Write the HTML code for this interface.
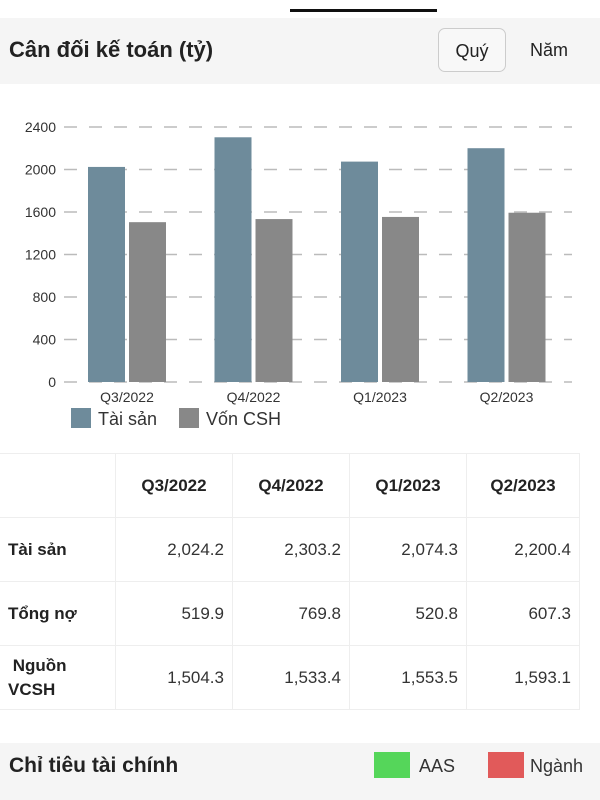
<!DOCTYPE html>
<html><head><meta charset="utf-8"><style>
body{margin:0;width:600px;height:800px;background:#fff;font-family:"Liberation Sans",sans-serif;overflow:hidden;position:relative;color:#222}
.abs{position:absolute}
table{border-collapse:collapse;position:absolute;left:0;top:453px}
td{border:1px solid #eee;font-size:17px;height:63px;padding:0 8px;text-align:right;color:#333}
td.h{font-weight:bold;color:#222;text-align:center}
td.l{font-weight:bold;text-align:left;border-left:none;color:#222}
</style></head><body>
<div class="abs" style="left:290px;top:9px;width:147px;height:3px;background:#111"></div>
<div class="abs" style="left:0;top:18px;width:600px;height:66px;background:#f5f5f5"></div>
<div class="abs" style="left:9px;top:37px;font-size:22px;font-weight:bold">Cân đối kế toán (tỷ)</div>
<div class="abs" style="left:438px;top:28px;width:68px;height:44px;border:1px solid #ccc;border-radius:7px;background:#f8f8f8;font-size:18px;line-height:44px;text-align:center;box-sizing:border-box">Quý</div>
<div class="abs" style="left:530px;top:40px;font-size:18px">Năm</div>
<svg class="abs" style="left:0;top:100px" width="600" height="340" id="ch"></svg>
<table>
<tr><td style="width:99px;border-left:none"></td><td class="h" style="width:100px">Q3/2022</td><td class="h" style="width:100px">Q4/2022</td><td class="h" style="width:100px">Q1/2023</td><td class="h" style="width:96px">Q2/2023</td></tr>
<tr><td class="l">Tài sản</td><td>2,024.2</td><td>2,303.2</td><td>2,074.3</td><td>2,200.4</td></tr>
<tr><td class="l">Tổng nợ</td><td>519.9</td><td>769.8</td><td>520.8</td><td>607.3</td></tr>
<tr><td class="l" style="line-height:24px">&nbsp;Nguồn<br>VCSH</td><td>1,504.3</td><td>1,533.4</td><td>1,553.5</td><td>1,593.1</td></tr>
</table>
<div class="abs" style="left:0;top:743px;width:600px;height:57px;background:#f5f5f5"></div>
<div class="abs" style="left:9px;top:754px;font-size:21px;font-weight:bold">Chỉ tiêu tài chính</div>
<div class="abs" style="left:374px;top:752px;width:36px;height:26px;background:#55d65a"></div>
<div class="abs" style="left:419px;top:756px;font-size:18px;color:#333">AAS</div>
<div class="abs" style="left:488px;top:752px;width:36px;height:26px;background:#e15a5a"></div>
<div class="abs" style="left:530px;top:756px;font-size:18px;color:#333">Ngành</div>
<script>
const categories=["Q3/2022","Q4/2022","Q1/2023","Q2/2023"];
const assets=[2024.2,2303.2,2074.3,2200.4];
const equity=[1504.3,1533.4,1553.5,1593.1];
const ticks=[0,400,800,1200,1600,2000,2400];
const svg=document.getElementById('ch');const NS='http://www.w3.org/2000/svg';
const y0=282,yTop=27,x0=64,band=126.5;
const Y=v=>y0-(v/2400)*(y0-yTop);
const X=i=>x0+i*band;
function mk(t,a){const e=document.createElementNS(NS,t);for(const k in a)e.setAttribute(k,a[k]);svg.appendChild(e);return e;}
ticks.forEach(t=>{
 const l=mk('line',{x1:x0,x2:572,y1:Y(t),y2:Y(t),stroke:'#bbb','stroke-width':1.5,'stroke-dasharray':'13,12'});
 
 
 const tx=mk('text',{x:56,y:Y(t)+5,'text-anchor':'end','font-size':14,fill:'#333'});tx.textContent=t;
 
 
});
categories.forEach((c,i)=>{
 const b1=mk('rect',{x:X(i)+24,y:Y(assets[i]),width:37,height:y0-Y(assets[i]),fill:'#6e8b9b'});
 
 
 const b2=mk('rect',{x:X(i)+65,y:Y(equity[i]),width:37,height:y0-Y(equity[i]),fill:'#888'});
 
 
 const t=mk('text',{x:X(i)+63,y:302,'text-anchor':'middle','font-size':14,fill:'#333'});t.textContent=c;
 
 
});
const lg=[['Tài sản','#6e8b9b',71],['Vốn CSH','#888',179]];
lg.forEach(([n,c,x])=>{
 const r=mk('rect',{x:x,y:308,width:20,height:20,fill:c});
 
 
 const t=mk('text',{x:x+27,y:325,'font-size':18,fill:'#333'});t.textContent=n;
 
 
});
</script>
</body></html>
